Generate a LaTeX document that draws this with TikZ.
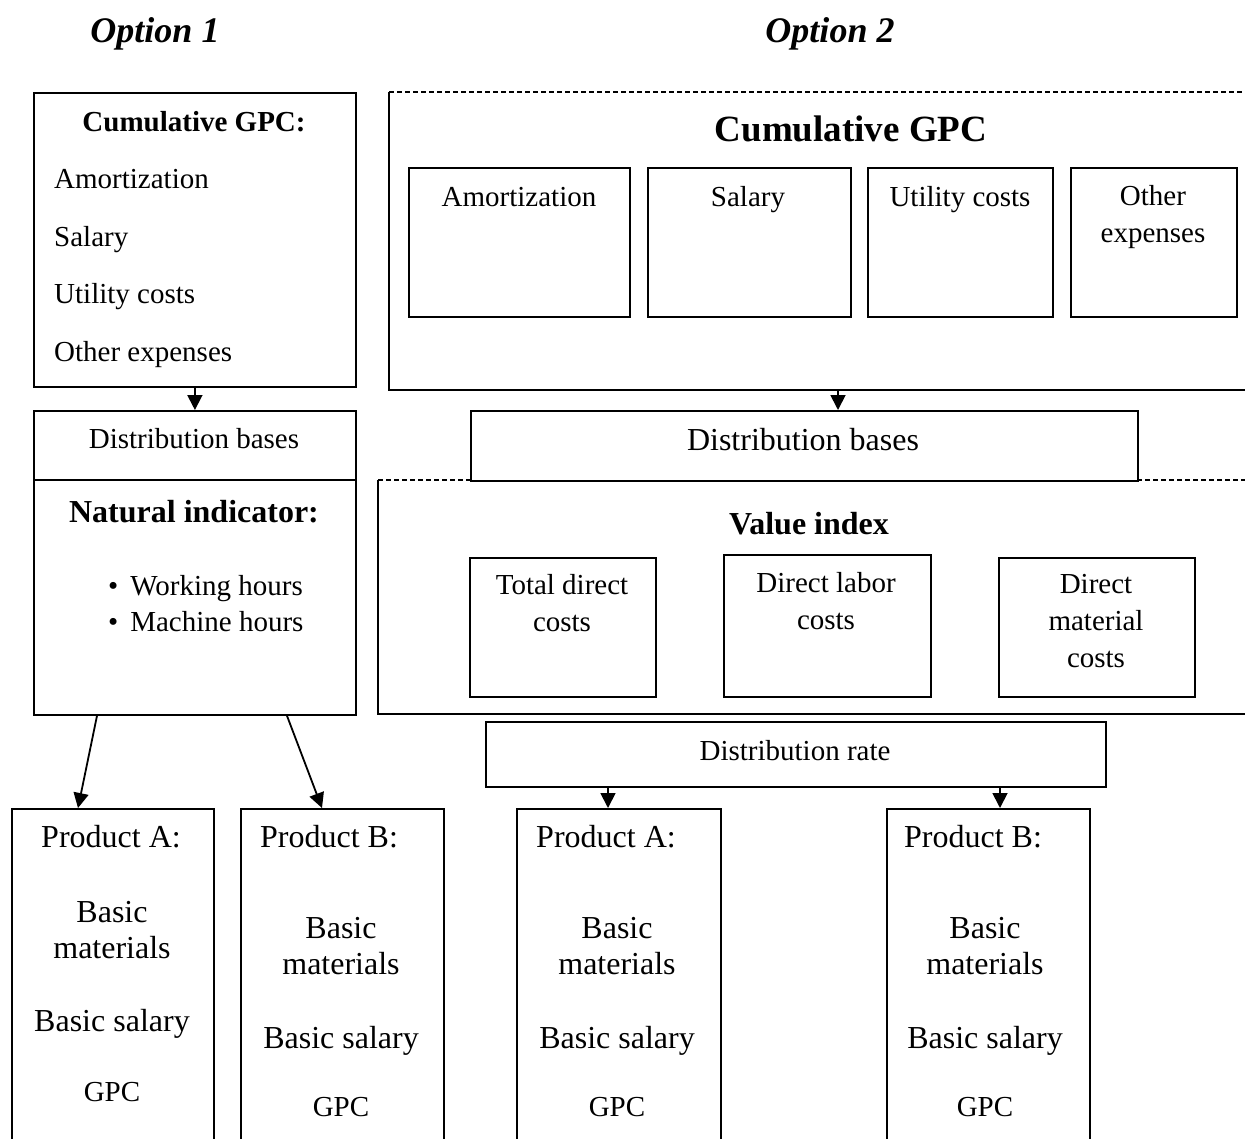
\documentclass[tikz,border=0pt]{standalone}
\usepackage{fontspec}
\setmainfont{Liberation Serif}
\usetikzlibrary{arrows.meta, calc}
\tikzset{
    box/.style={draw, line width=1.8pt, inner sep=0pt, anchor=north west},
    txt/.style={inner sep=0pt, align=center, font=\fontsize{29}{37}\selectfont},
    txtb/.style={inner sep=0pt, align=center, font=\fontsize{32}{36}\selectfont},
    arr/.style={line width=1.8pt, -{Triangle[length=15pt,width=15pt]}},
}
\begin{document}
\begin{tikzpicture}[x=1pt,y=1pt]
\useasboundingbox (0,0) rectangle (1245,-1138);
\node[anchor=mid, font=\fontsize{36}{40}\selectfont\bfseries\itshape] (opt1) at (155,-40) {Option 1};
\node[anchor=mid, font=\fontsize{36}{40}\selectfont\bfseries\itshape] (opt2) at (830,-40) {Option 2};
% option 1
\node[box, minimum width=322pt, minimum height=294pt] (gpcL) at (33,-92) {};
\node[txt, anchor=mid, font=\fontsize{29}{37}\selectfont\bfseries] at (194,-129) {Cumulative GPC:};
\node[txt, anchor=mid west] at (54,-186) {Amortization};
\node[txt, anchor=mid west] at (54,-244) {Salary};
\node[txt, anchor=mid west] at (54,-301) {Utility costs};
\node[txt, anchor=mid west] at (54,-359) {Other expenses};
\node[box, minimum width=322pt, minimum height=69pt] (distL) at (33,-410) {};
\node[txt, anchor=mid] at (194,-446) {Distribution bases};
\node[box, minimum width=322pt, minimum height=235pt] (natL) at (33,-479) {};
\node[txtb, anchor=mid, font=\fontsize{32}{36}\selectfont\bfseries] at (194,-520) {Natural indicator:};
\node[txt, anchor=mid west] at (108,-593) {\textbullet\hspace{12pt}Working hours};
\node[txt, anchor=mid west] at (108,-629) {\textbullet\hspace{12pt}Machine hours};
\draw[arr] (gpcL.south) -- (distL.north);
\node[box, minimum width=202pt, minimum height=340pt] (prodA1) at (11,-808) {};
\node[txtb, anchor=mid] at (111,-845) {Product A:};
\node[txtb] at (112,-930) {Basic\\materials};
\node[txtb, anchor=mid] at (112,-1029) {Basic salary};
\node[txt, anchor=mid] at (112,-1099) {GPC};
\node[box, minimum width=203pt, minimum height=340pt] (prodB1) at (240,-808) {};
\node[txtb, anchor=mid] at (329,-845) {Product B:};
\node[txtb] at (341,-946) {Basic\\materials};
\node[txtb, anchor=mid] at (341,-1046) {Basic salary};
\node[txt, anchor=mid] at (341,-1114) {GPC};
\draw[arr] ([xshift=64pt]natL.south west) -- ([xshift=67pt]prodA1.north west);
\draw[arr] ([xshift=254pt]natL.south west) -- ([xshift=82pt]prodB1.north west);
% option 2
\draw[line width=1.2pt, dash pattern=on 5pt off 3pt] (389,-92) -- (1245,-92);
\draw[line width=1.8pt] (389,-92) -- (389,-390) -- (1245,-390);
\coordinate (gpcRbot) at (838,-390);
\node[anchor=mid, font=\fontsize{37}{40}\selectfont\bfseries] at (851,-139) {Cumulative GPC};
\node[box, minimum width=221pt, minimum height=149pt] (amort) at (408,-167) {};
\node[txt, anchor=mid] at (519,-204) {Amortization};
\node[box, minimum width=203pt, minimum height=149pt] (salary) at (647,-167) {};
\node[txt, anchor=mid] at (748,-204) {Salary};
\node[box, minimum width=185pt, minimum height=149pt] (utility) at (867,-167) {};
\node[txt, anchor=mid] at (960,-204) {Utility costs};
\node[box, minimum width=166pt, minimum height=149pt] (other) at (1070,-167) {};
\node[txt] at (1153,-217) {Other\\expenses};
\node[box, minimum width=667pt, minimum height=70pt] (distR) at (470,-410) {};
\node[txtb, anchor=mid] at (803,-448) {Distribution bases};
\draw[arr] (gpcRbot) -- (gpcRbot |- distR.north);
\draw[line width=1.2pt, dash pattern=on 5pt off 3pt] (378,-480) -- (470,-480) (1137,-480) -- (1245,-480);
\draw[line width=1.8pt] (378,-480) -- (378,-714) -- (1245,-714);
\node[anchor=mid, font=\fontsize{32}{36}\selectfont\bfseries] at (809,-532) {Value index};
\node[box, minimum width=186pt, minimum height=139pt] (tdc) at (469,-557) {};
\node[txt] at (562,-603) {Total direct\\costs};
\node[box, minimum width=207pt, minimum height=142pt] (dlc) at (723,-554) {};
\node[txt] at (826,-601) {Direct labor\\costs};
\node[box, minimum width=196pt, minimum height=139pt] (dmc) at (998,-557) {};
\node[txt] at (1096,-621) {Direct\\material\\costs};
\node[box, minimum width=620pt, minimum height=65pt] (rateR) at (485,-721) {};
\node[txt, anchor=mid] at (795,-758) {Distribution rate};
\node[box, minimum width=204pt, minimum height=340pt] (prodA2) at (516,-808) {};
\node[txtb, anchor=mid] at (606,-845) {Product A:};
\node[txtb] at (617,-946) {Basic\\materials};
\node[txtb, anchor=mid] at (617,-1046) {Basic salary};
\node[txt, anchor=mid] at (617,-1114) {GPC};
\node[box, minimum width=203pt, minimum height=340pt] (prodB2) at (886,-808) {};
\node[txtb, anchor=mid] at (973,-845) {Product B:};
\node[txtb] at (985,-946) {Basic\\materials};
\node[txtb, anchor=mid] at (985,-1046) {Basic salary};
\node[txt, anchor=mid] at (985,-1114) {GPC};
\draw[arr] ([xshift=123pt]rateR.south west) -- ([xshift=92pt]prodA2.north west);
\draw[arr] ([xshift=515pt]rateR.south west) -- ([xshift=114pt]prodB2.north west);
\end{tikzpicture}
\end{document}
